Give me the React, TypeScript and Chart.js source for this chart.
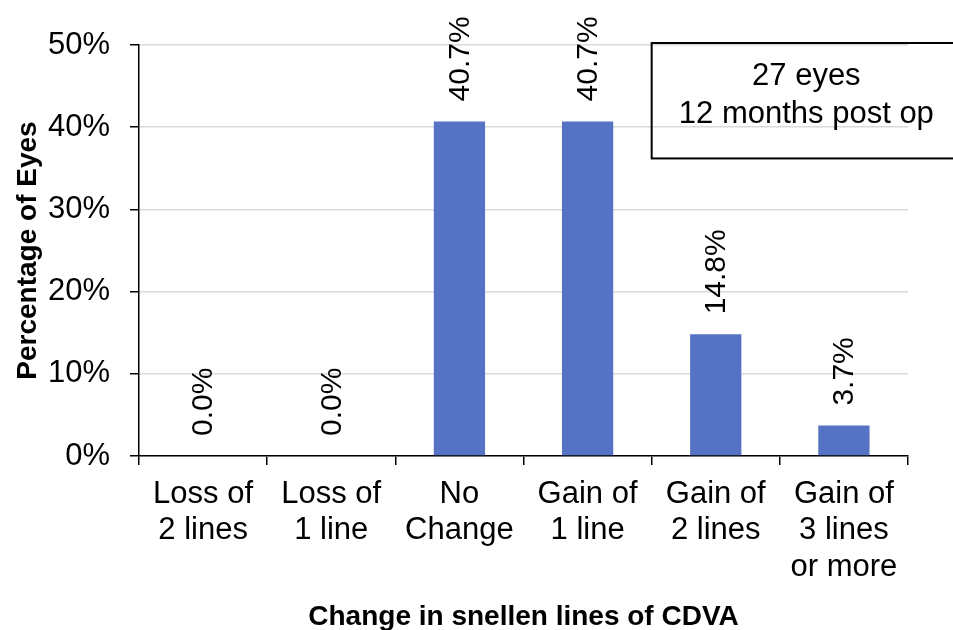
import React, { useEffect, useRef } from "react";
import { Chart, registerables } from "chart.js";

Chart.register(...registerables);

const categories: string[][] = [
  ["Loss of", "2 lines"],
  ["Loss of", "1 line"],
  ["No", "Change"],
  ["Gain of", "1 line"],
  ["Gain of", "2 lines"],
  ["Gain of", "3 lines", "or more"],
];
const percentages: number[] = [0.0, 0.0, 40.7, 40.7, 14.8, 3.7];
const yTicks: number[] = [0, 10, 20, 30, 40, 50];
const noteLines: string[] = ["27 eyes", "12 months post op"];
const xTitle = "Change in snellen lines of CDVA";
const yTitle = "Percentage of Eyes";

const FONT = "'Liberation Sans', Arial, sans-serif";

const labelPlugin = {
  id: "rotLabels",
  afterDatasetsDraw(chart: any) {
    const ctx = chart.ctx;
    const meta = chart.getDatasetMeta(0);
    ctx.save();
    ctx.font = `30px ${FONT}`;
    ctx.fillStyle = "#000";
    ctx.textAlign = "left";
    ctx.textBaseline = "middle";
    meta.data.forEach((el: any, i: number) => {
      const v = percentages[i];
      ctx.save();
      ctx.translate(el.x + 1, el.y - 20);
      ctx.rotate(-Math.PI / 2);
      ctx.fillText(v.toFixed(1) + "%", 0, 0);
      ctx.restore();
    });
    ctx.restore();
  },
};

const notePlugin = {
  id: "noteBox",
  afterDraw(chart: any) {
    const ctx = chart.ctx;
    const xs = chart.scales.x;
    const ys = chart.scales.y;
    const left = (xs.getPixelForValue(3) + xs.getPixelForValue(4)) / 2;
    const right = chart.width + 8;
    const top = ys.getPixelForValue(50) - 2;
    const bottom = ys.getPixelForValue(36.2);
    ctx.save();
    ctx.strokeStyle = "#000";
    ctx.lineWidth = 2;
    ctx.strokeRect(left, top, right - left, bottom - top);
    ctx.fillStyle = "#000";
    ctx.font = `31px ${FONT}`;
    ctx.textAlign = "center";
    ctx.textBaseline = "middle";
    const cx = (left + right) / 2;
    ctx.fillText(noteLines[0], cx, top + 33);
    ctx.fillText(noteLines[1], cx, top + 71);
    ctx.restore();
  },
};

export default function App() {
  const ref = useRef<HTMLCanvasElement | null>(null);
  useEffect(() => {
    document.body.style.margin = "0";
    if (!ref.current) return;
    const chart = new Chart(ref.current, {
      type: "bar",
      data: {
        labels: categories,
        datasets: [
          {
            data: percentages,
            backgroundColor: "#5572C4",
            barPercentage: 0.4,
            categoryPercentage: 1.0,
          },
        ],
      },
      options: {
        animation: false,
        responsive: false,
        maintainAspectRatio: false,
        layout: { padding: { top: 45, right: 45, left: 0, bottom: 0 } },
        plugins: {
          legend: { display: false },
          tooltip: { enabled: false },
        },
        scales: {
          x: {
            grid: {
              offset: true,
              drawOnChartArea: false,
              drawTicks: true,
              tickLength: 9,
              tickColor: "#000",
              lineWidth: 1.5,
            },
            border: { color: "#000", width: 1.5 },
            ticks: {
              color: "#000",
              font: { family: FONT, size: 31, lineHeight: 1.18 },
              padding: 11,
              maxRotation: 0,
              autoSkip: false,
            },
            title: {
              display: true,
              text: xTitle,
              color: "#000",
              font: { family: FONT, size: 28, weight: "bold" },
              padding: { top: 0, bottom: -4 },
            },
            afterFit(scale: any) {
              scale.height = 174;
            },
          },
          y: {
            min: 0,
            max: 50,
            afterBuildTicks(scale: any) {
              scale.ticks = yTicks.map((v) => ({ value: v }));
            },
            grid: {
              color: "#d9d9d9",
              lineWidth: 1.5,
              drawTicks: true,
              tickLength: 9,
              tickColor: "#000",
            },
            border: { color: "#000", width: 1.5 },
            ticks: {
              color: "#000",
              font: { family: FONT, size: 31 },
              padding: 20,
              callback: (v: any) => v + "%",
            },
            title: {
              display: true,
              text: yTitle,
              color: "#000",
              font: { family: FONT, size: 28, weight: "bold" },
              padding: { top: 11, bottom: 0 },
            },
            afterFit(scale: any) {
              scale.width = 139;
            },
          },
        },
      },
      plugins: [labelPlugin, notePlugin],
    });
    return () => chart.destroy();
  }, []);
  return (
    <div style={{ position: "absolute", left: 0, top: 0, width: 953, height: 630, background: "#fff" }}>
      <canvas ref={ref} width={953} height={630} style={{ width: 953, height: 630 }} />
    </div>
  );
}
